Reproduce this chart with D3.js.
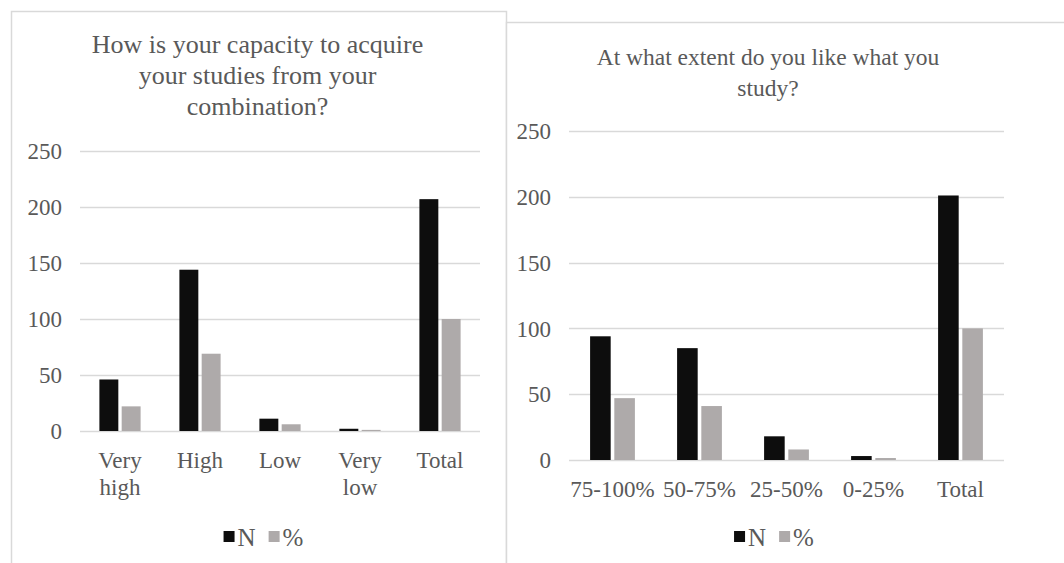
<!DOCTYPE html>
<html>
<head>
<meta charset="utf-8">
<script src="https://cdn.jsdelivr.net/npm/d3@7"></script>
<style>
  html, body { margin: 0; padding: 0; background: #fff; }
  text { font-family: 'Times New Roman', 'Liberation Serif', 'DejaVu Serif', serif; }
</style>
</head>
<body>
<svg id="board" width="1064" height="563"></svg>
<script>
// chart 1
const titleA = ['How is your capacity to acquire', 'your studies from your', 'combination?'];
const catsA = [['Very', 'high'], ['High'], ['Low'], ['Very', 'low'], ['Total']];
const nA = [46, 144, 11, 2, 207];
const pctA = [22, 69, 6, 1, 100];

// chart 2
const titleB = ['At what extent do you like what you', 'study?'];
const catsB = [['75-100%'], ['50-75%'], ['25-50%'], ['0-25%'], ['Total']];
const nB = [94, 85, 18, 3, 201];
const pctB = [47, 41, 8, 1.5, 100];

const yTicks = [0, 50, 100, 150, 200, 250];
const seriesNames = ['N', '%'];
const colors = { 'N': '#0d0d0d', '%': '#aeaaaa' };

const svg = d3.select('#board');

function board(opt) {
  const g = svg.append('g');

  // panel frame
  g.append('rect')
    .attr('x', opt.box[0] + 0.5).attr('y', opt.box[1] + 0.5)
    .attr('width', opt.box[2]).attr('height', opt.box[3])
    .style('fill', '#fff').style('stroke', '#d9d9d9').style('stroke-width', 1.5);

  const cx = opt.box[0] + opt.titleCx;

  // title
  g.selectAll('.title').data(opt.title)
    .join('text')
    .attr('class', 'title')
    .attr('x', cx)
    .attr('y', (d, i) => opt.titleY + i * 31)
    .attr('text-anchor', 'middle')
    .style('font-size', opt.titleSize + 'px')
    .style('fill', '#595959')
    .text(d => d);

  const x = d3.scaleBand()
    .domain(opt.cats.map((d, i) => i))
    .range([opt.left, opt.right])
    .paddingInner(0.485).paddingOuter(0.2425);

  const xs = d3.scaleBand()
    .domain(seriesNames)
    .range([0, x.bandwidth()])
    .paddingInner(0.15);

  const y = d3.scaleLinear().domain([0, 250]).range([opt.bottom, opt.top]);

  // grid
  g.selectAll('.grid').data(yTicks)
    .join('line')
    .attr('class', 'grid')
    .attr('x1', opt.left).attr('x2', opt.right)
    .attr('y1', d => Math.round(y(d)) + 0.5).attr('y2', d => Math.round(y(d)) + 0.5)
    .style('stroke', '#d9d9d9').style('stroke-width', 1.5);

  g.selectAll('.ytick').data(yTicks)
    .join('text')
    .attr('class', 'ytick')
    .attr('x', opt.left - 18)
    .attr('y', d => y(d))
    .attr('dy', '0.36em')
    .attr('text-anchor', 'end')
    .style('font-size', '23px')
    .style('fill', '#595959')
    .text(d => d);

  // bars
  const rows = opt.cats.map((c, i) => ({ i, vals: [opt.n[i], opt.pct[i]] }));
  const grp = g.selectAll('.cat').data(rows)
    .join('g')
    .attr('class', 'cat')
    .attr('transform', d => `translate(${x(d.i)},0)`);

  grp.selectAll('rect')
    .data(d => d.vals.map((v, k) => ({ key: seriesNames[k], v })))
    .join('rect')
    .attr('x', d => xs(d.key))
    .attr('width', xs.bandwidth())
    .attr('y', d => y(d.v))
    .attr('height', d => y(0) - y(d.v))
    .style('fill', d => colors[d.key]);

  // category labels
  const lab = g.selectAll('.xlab').data(opt.cats)
    .join('text')
    .attr('class', 'xlab')
    .attr('text-anchor', 'middle')
    .style('font-size', '23px')
    .style('fill', '#595959')
    .attr('transform', (d, i) => `translate(${x(i) + x.bandwidth() / 2},${opt.bottom + 37})`);
  lab.selectAll('tspan').data(d => d)
    .join('tspan')
    .attr('x', 0)
    .attr('y', (d, i) => i * 27)
    .text(d => d);

  // legend
  const leg = g.append('g');
  let pos = 0;
  seriesNames.forEach((s, k) => {
    leg.append('rect')
      .attr('x', pos).attr('y', -10)
      .attr('width', 11).attr('height', 11)
      .style('fill', colors[s]);
    const t = leg.append('text')
      .attr('x', pos + 14).attr('y', 0)
      .attr('dy', '0.2em')
      .style('font-size', '25px')
      .style('fill', '#595959')
      .text(s);
    pos += 14 + t.node().getComputedTextLength() + 13;
  });
  const legW = pos - 13;
  leg.attr('transform', `translate(${cx - legW / 2 + 6},${opt.legendY})`);
}

board({
  box: [11, 11, 495, 600], titleCx: 246.5, titleY: 53, titleSize: 26,
  title: titleA, cats: catsA, n: nA, pct: pctA,
  left: 80, right: 480, top: 151, bottom: 431, legendY: 541
});

board({
  box: [506, 22, 600, 600], titleCx: 262, titleY: 65, titleSize: 23.5,
  title: titleB, cats: catsB, n: nB, pct: pctB,
  left: 569, right: 1004, top: 131, bottom: 460, legendY: 541
});
</script>
</body>
</html>
